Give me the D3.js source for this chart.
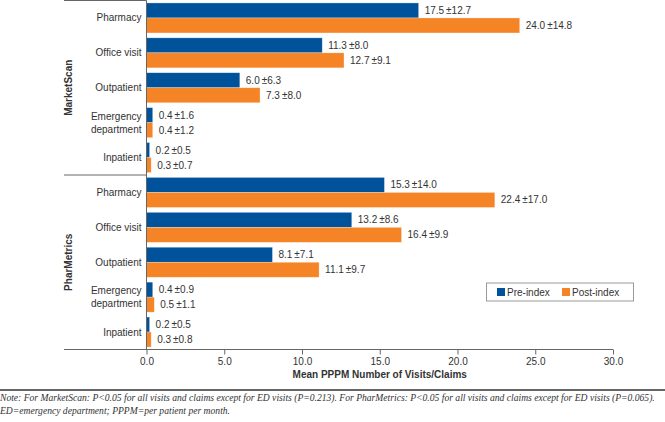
<!DOCTYPE html>
<html>
<head>
<meta charset="utf-8">
<script src="https://cdn.jsdelivr.net/npm/d3@7"></script>
<style>
  body { margin: 0; background: #fff; }
  svg { display: block; font-family: "Liberation Sans", Arial, sans-serif; }
</style>
</head>
<body>
<script>
// data
const groups = ["MarketScan", "PharMetrics"];
const categories = ["Pharmacy", "Office visit", "Outpatient", "Emergency department", "Inpatient"];
const series = ["Pre-index", "Post-index"];

const marketPre = [17.5, 11.3, 6.0, 0.4, 0.2];
const marketPreSd = [12.7, 8.0, 6.3, 1.6, 0.5];
const marketPost = [24.0, 12.7, 7.3, 0.4, 0.3];
const marketPostSd = [14.8, 9.1, 8.0, 1.2, 0.7];

const pharPre = [15.3, 13.2, 8.1, 0.4, 0.2];
const pharPreSd = [14.0, 8.6, 7.1, 0.9, 0.5];
const pharPost = [22.4, 16.4, 11.1, 0.5, 0.3];
const pharPostSd = [17.0, 9.9, 9.7, 1.1, 0.8];

const xTicks = [0, 5, 10, 15, 20, 25, 30];

const noteLines = [
  "Note: For MarketScan: P<0.05 for all visits and claims except for ED visits (P=0.213). For PharMetrics: P<0.05 for all visits and claims except for ED visits (P=0.065).",
  "ED=emergency department; PPPM=per patient per month."
];

const colors = { "Pre-index": "#00529b", "Post-index": "#f58426" };

// build rows
const rows = [];
function addRows(group, pre, preSd, post, postSd) {
  categories.forEach((c, i) => {
    rows.push({ group, cat: c, series: "Pre-index", value: pre[i], sd: preSd[i] });
    rows.push({ group, cat: c, series: "Post-index", value: post[i], sd: postSd[i] });
  });
}
addRows("MarketScan", marketPre, marketPreSd, marketPost, marketPostSd);
addRows("PharMetrics", pharPre, pharPreSd, pharPost, pharPostSd);

const w = 665, h = 422;
const plotLeft = 146.5, plotRight = 613;
const plotTop = 0.5, plotBottom = 349.5;
const labelLeft = 64;

const svg = d3.select("body").append("svg")
  .attr("width", w)
  .attr("height", h);

const x = d3.scaleLinear()
  .domain([0, 30])
  .range([plotLeft, plotRight]);

const yGroup = d3.scaleBand()
  .domain(groups)
  .range([plotTop, plotBottom]);

const yCat = d3.scaleBand()
  .domain(categories)
  .range([0, yGroup.bandwidth()])
  .paddingInner(0.14)
  .paddingOuter(0.07);

const ySer = d3.scaleBand()
  .domain(series)
  .range([0, yCat.bandwidth()]);

function barY(d) {
  return yGroup(d.group) + yCat(d.cat) + ySer(d.series);
}

// bars
svg.append("g").selectAll("rect")
  .data(rows)
  .enter()
  .append("rect")
  .attr("x", x(0))
  .attr("y", d => barY(d))
  .attr("width", d => x(d.value) - x(0))
  .attr("height", ySer.bandwidth())
  .attr("fill", d => colors[d.series])
  .attr("stroke", "#fff")
  .attr("stroke-opacity", 0.45)
  .attr("stroke-width", 0.6);

// value labels
svg.append("g").selectAll("text")
  .data(rows)
  .enter()
  .append("text")
  .attr("x", d => x(d.value) + 6)
  .attr("y", d => barY(d) + ySer.bandwidth() / 2)
  .attr("dy", "0.35em")
  .attr("font-size", 10)
  .attr("fill", "#333")
  .text(d => d.value.toFixed(1) + "\u2009±" + d.sd.toFixed(1));

// category labels
const catG = svg.append("g");
groups.forEach(g => {
  categories.forEach(c => {
    const cy = yGroup(g) + yCat(c) + yCat.bandwidth() / 2;
    const words = c === "Emergency department" ? ["Emergency", "department"] : [c];
    const t = catG.append("text")
      .attr("x", plotLeft - 5)
      .attr("text-anchor", "end")
      .attr("font-size", 10)
      .attr("fill", "#333");
    words.forEach((wd, i) => {
      t.append("tspan")
        .attr("x", plotLeft - 5)
        .attr("y", cy + (i - (words.length - 1) / 2) * 13)
        .attr("dy", "0.35em")
        .text(wd);
    });
  });
});

// group labels
svg.append("g").selectAll("text")
  .data(groups)
  .enter()
  .append("text")
  .attr("transform", d => `translate(${labelLeft + 4},${yGroup(d) + yGroup.bandwidth() / 2}) rotate(-90)`)
  .attr("text-anchor", "middle")
  .attr("dy", "0.35em")
  .attr("font-size", 10)
  .attr("font-weight", "bold")
  .attr("fill", "#333")
  .text(d => d);

// frame lines
const lineColor = "#666";
svg.append("line")
  .attr("x1", plotLeft).attr("x2", plotLeft)
  .attr("y1", plotTop).attr("y2", plotBottom)
  .attr("stroke", lineColor);
[plotTop, yGroup("PharMetrics")].forEach(yy => {
  svg.append("line")
    .attr("x1", labelLeft).attr("x2", plotLeft)
    .attr("y1", yy).attr("y2", yy)
    .attr("stroke", lineColor);
});
svg.append("line")
  .attr("x1", labelLeft).attr("x2", plotRight)
  .attr("y1", plotBottom).attr("y2", plotBottom)
  .attr("stroke", lineColor);

// x axis
const xAxis = svg.append("g")
  .attr("transform", `translate(0,${plotBottom})`)
  .call(d3.axisBottom(x).tickValues(xTicks).tickFormat(d3.format(".1f")).tickSize(5).tickPadding(3));
xAxis.select(".domain").remove();
xAxis.selectAll(".tick line").attr("stroke", lineColor);
xAxis.selectAll(".tick text")
  .attr("font-size", 10)
  .attr("font-family", "Liberation Sans, Arial, sans-serif")
  .attr("fill", "#333");

svg.append("text")
  .attr("x", (plotLeft + plotRight) / 2)
  .attr("y", 378)
  .attr("text-anchor", "middle")
  .attr("font-size", 10)
  .attr("font-weight", "bold")
  .attr("fill", "#333")
  .text("Mean PPPM Number of Visits/Claims");

// legend
const legend = svg.append("g");
legend.append("rect")
  .attr("x", 486.5).attr("y", 283)
  .attr("width", 147).attr("height", 18)
  .attr("fill", "#fff")
  .attr("stroke", "#999");
const legX = [497, 562];
series.forEach((s, i) => {
  legend.append("rect")
    .attr("x", legX[i]).attr("y", 288)
    .attr("width", 8).attr("height", 8)
    .attr("fill", colors[s]);
  legend.append("text")
    .attr("x", legX[i] + 10)
    .attr("y", 292)
    .attr("dy", "0.35em")
    .attr("font-size", 10)
    .attr("fill", "#333")
    .text(s);
});

// note rule and text
svg.append("line")
  .attr("x1", 0).attr("x2", w)
  .attr("y1", 390).attr("y2", 390)
  .attr("stroke", "#333")
  .attr("stroke-width", 1.5);

svg.append("g").selectAll("text")
  .data(noteLines)
  .enter()
  .append("text")
  .attr("x", 0)
  .attr("y", (d, i) => 401 + i * 13)
  .attr("font-family", "Liberation Serif, serif")
  .attr("font-style", "italic")
  .attr("font-size", 9.6)
  .attr("fill", "#333")
  .text(d => d);
</script>
</body>
</html>
